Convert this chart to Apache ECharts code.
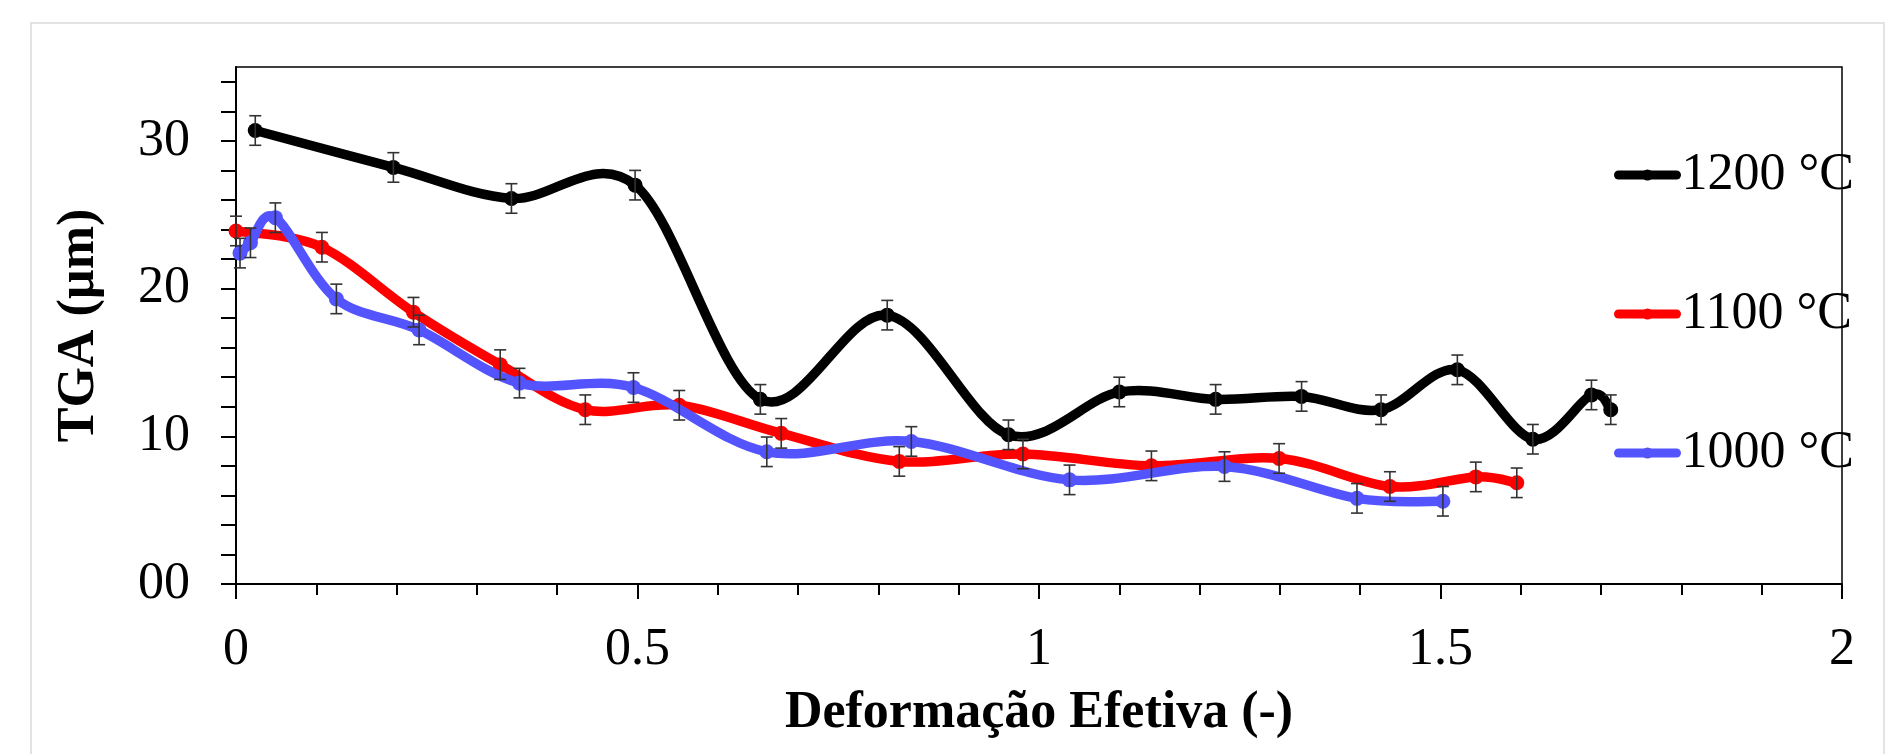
<!DOCTYPE html>
<html><head><meta charset="utf-8">
<script src="https://cdn.jsdelivr.net/npm/echarts@6/dist/echarts.min.js"></script>
<style>
html,body{margin:0;padding:0;background:#fff;width:1903px;height:754px;overflow:hidden}
#frame{position:absolute;left:30px;top:22px;width:1855px;height:800px;border:2px solid #e3e3e3;box-sizing:border-box}
#chart{position:absolute;left:0;top:0;width:1903px;height:754px}
</style></head><body>
<div id="frame"></div><div id="chart"></div>
<script>
const seriesNames = ['1200 °C', '1100 °C', '1000 °C'];
const seriesColors = ['#000000', '#ff0000', '#5454ff'];

const x1200 = [0.024, 0.196, 0.343, 0.497, 0.653, 0.811, 0.962, 1.100, 1.220, 1.327, 1.426, 1.521, 1.615, 1.688, 1.712];
const y1200 = [30.7, 28.2, 26.1, 27.0, 12.5, 18.2, 10.1, 13.0, 12.5, 12.7, 11.8, 14.5, 9.8, 12.8, 11.8];
const e1200 = [1.0, 1.0, 1.0, 1.0, 1.0, 1.0, 1.0, 1.0, 1.0, 1.0, 1.0, 1.0, 1.0, 1.0, 1.0];

const x1100 = [0.000, 0.107, 0.221, 0.329, 0.435, 0.552, 0.679, 0.826, 0.980, 1.140, 1.299, 1.437, 1.544, 1.595];
const y1100 = [23.9, 22.8, 18.4, 14.85, 11.8, 12.1, 10.2, 8.3, 8.8, 8.0, 8.5, 6.6, 7.25, 6.85];
const e1100 = [1.0, 1.0, 1.0, 1.0, 1.0, 1.0, 1.0, 1.0, 1.0, 1.0, 1.0, 1.0, 1.0, 1.0];

const x1000 = [0.005, 0.018, 0.049, 0.125, 0.228, 0.353, 0.495, 0.661, 0.841, 1.038, 1.231, 1.396, 1.503];
const y1000 = [22.4, 23.1, 24.8, 19.3, 17.2, 13.6, 13.3, 8.95, 9.65, 7.05, 7.95, 5.8, 5.6];
const e1000 = [1.0, 1.0, 1.0, 1.0, 1.0, 1.0, 1.0, 1.0, 1.0, 1.0, 1.0, 1.0, 1.0];

const yTickValues = [0, 2, 4, 6, 8, 10, 12, 14, 16, 18, 20, 22, 24, 26, 28, 30, 32, 34];
const yLabelValues = [0, 10, 20, 30];
const yLabelTexts = ['00', '10', '20', '30'];
const xLabelValues = [0, 0.5, 1, 1.5, 2];
const xLabelTexts = ['0', '0.5', '1', '1.5', '2'];

const xName = 'Deformação Efetiva (-)';
const yName = 'TGA (µm)';

const FONT = 'Liberation Serif';
const LINE_W = 9.5;
const TENSION = 1 / 6;
const xs = [x1200, x1100, x1000], ys = [y1200, y1100, y1000], es = [e1200, e1100, e1000];

function pts(i) { return xs[i].map((x, k) => [x, ys[i][k]]); }
function errPts(i) { return xs[i].map((x, k) => [x, ys[i][k], es[i][k]]); }

function errRender(params, api) {
  const x = api.value(0), y = api.value(1), e = api.value(2);
  const t = api.coord([x, y + e]), b = api.coord([x, y - e]);
  const hw = 6;
  const style = { stroke: '#333', lineWidth: 1.6 };
  return { type: 'group', children: [
    { type: 'line', shape: { x1: t[0], y1: t[1], x2: b[0], y2: b[1] }, style: style },
    { type: 'line', shape: { x1: t[0] - hw, y1: t[1], x2: t[0] + hw, y2: t[1] }, style: style },
    { type: 'line', shape: { x1: b[0] - hw, y1: b[1], x2: b[0] + hw, y2: b[1] }, style: style }
  ]};
}

// spreadsheet-style smoothed curve through the data points (Bezier handles from neighbours)
function curveRender(i) {
  return function (params, api) {
    if (params.dataIndex !== 0) return null;
    const P = xs[i].map((x, k) => api.coord([x, ys[i][k]]));
    let d = 'M' + P[0][0] + ' ' + P[0][1];
    for (let k = 0; k < P.length - 1; k++) {
      const p0 = P[k - 1] || P[k], p1 = P[k], p2 = P[k + 1], p3 = P[k + 2] || P[k + 1];
      const c1x = p1[0] + (p2[0] - p0[0]) * TENSION, c1y = p1[1] + (p2[1] - p0[1]) * TENSION;
      const c2x = p2[0] - (p3[0] - p1[0]) * TENSION, c2y = p2[1] - (p3[1] - p1[1]) * TENSION;
      d += ' C' + c1x + ' ' + c1y + ' ' + c2x + ' ' + c2y + ' ' + p2[0] + ' ' + p2[1];
    }
    return { type: 'path', shape: { pathData: d },
      style: { fill: 'none', stroke: seriesColors[i], lineWidth: LINE_W, lineCap: 'round', lineJoin: 'round' } };
  };
}

const series = [];
for (let i = 0; i < 3; i++) {
  series.push({
    name: 'curve' + i, type: 'custom', data: pts(i), renderItem: curveRender(i),
    encode: { x: 0, y: 1 }, z: 2 + i, silent: true, clip: false
  });
  series.push({
    name: seriesNames[i], type: 'line', data: pts(i), smooth: false,
    symbol: 'circle', symbolSize: 15, showSymbol: true,
    itemStyle: { color: seriesColors[i] },
    lineStyle: { color: seriesColors[i], width: LINE_W, opacity: 0 },
    z: 2 + i, silent: true
  });
}
for (let i = 0; i < 3; i++) {
  series.push({
    name: 'err' + i, type: 'custom', data: errPts(i), renderItem: errRender,
    encode: { x: 0, y: 1 }, z: 10, silent: true
  });
}

const chart = echarts.init(document.getElementById('chart'), null, { renderer: 'canvas' });
chart.setOption({
  animation: false,
  backgroundColor: 'transparent',
  grid: { left: 236, top: 67, width: 1606, height: 517, show: true, borderColor: '#000', borderWidth: 1.5, backgroundColor: 'transparent', containLabel: false, outerBoundsMode: 'none' },
  legend: {
    data: seriesNames.map((n, i) => ({
      name: n,
      itemStyle: { color: seriesColors[i] },
      lineStyle: { color: seriesColors[i], width: 9, opacity: 1, cap: 'round' }
    })),
    orient: 'vertical', left: 1609, top: 144,
    itemWidth: 58, itemHeight: 14, itemGap: 87,
    textStyle: { fontFamily: FONT, fontSize: 52, color: '#000', lineHeight: 52 }
  },
  xAxis: {
    type: 'value', min: 0, max: 2, interval: 0.5,
    name: xName, nameLocation: 'middle', nameGap: 104,
    nameTextStyle: { fontFamily: FONT, fontWeight: 'bold', fontSize: 52, color: '#000' },
    axisLine: { show: true, lineStyle: { color: '#000', width: 2 } },
    axisTick: { show: true, length: 15, lineStyle: { color: '#000', width: 2 } },
    minorTick: { show: true, splitNumber: 5, length: 11, lineStyle: { color: '#000', width: 2 } },
    splitLine: { show: false }, minorSplitLine: { show: false },
    axisLabel: { margin: 40, fontFamily: FONT, fontSize: 52, color: '#000',
      customValues: xLabelValues,
      formatter: v => { const k = xLabelValues.indexOf(v); return k >= 0 ? xLabelTexts[k] : ''; } }
  },
  yAxis: {
    type: 'value', min: 0, max: 35,
    name: yName, nameLocation: 'middle', nameGap: 130,
    nameTextStyle: { fontFamily: FONT, fontWeight: 'bold', fontSize: 52, color: '#000' },
    axisLine: { show: true, lineStyle: { color: '#000', width: 2 } },
    axisTick: { show: true, length: 15, customValues: yTickValues, lineStyle: { color: '#000', width: 2 } },
    splitLine: { show: false },
    axisLabel: { margin: 46, fontFamily: FONT, fontSize: 52, color: '#000',
      customValues: yLabelValues,
      formatter: v => { const k = yLabelValues.indexOf(v); return k >= 0 ? yLabelTexts[k] : ''; } }
  },
  series: series
});
</script>
</body></html>
